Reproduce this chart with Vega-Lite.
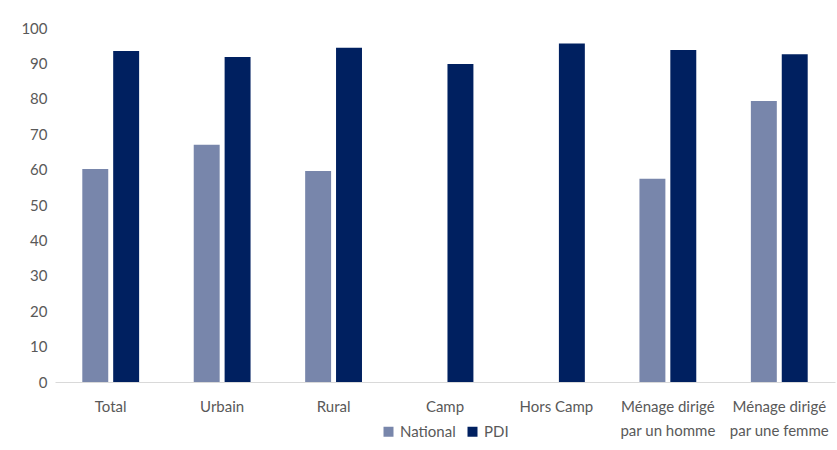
{
  "$schema": "https://vega.github.io/schema/vega-lite/v6.json",
  "width": 780,
  "height": 354,
  "autosize": {"type": "none"},
  "padding": {"left": 55, "top": 28, "right": 2, "bottom": 68},
  "background": "white",
  "config": {
    "view": {"stroke": null},
    "font": "Lato",
    "axis": {"labelFont": "Lato", "labelFontSize": 15, "labelColor": "#595959"},
    "legend": {"labelFont": "Lato", "labelFontSize": 15, "labelColor": "#595959"}
  },
  "data": {
    "values": [
      {"cat": "Total", "serie": "National", "val": 60.2},
      {"cat": "Total", "serie": "PDI", "val": 93.5},
      {"cat": "Urbain", "serie": "National", "val": 67.0},
      {"cat": "Urbain", "serie": "PDI", "val": 91.8},
      {"cat": "Rural", "serie": "National", "val": 59.6},
      {"cat": "Rural", "serie": "PDI", "val": 94.4},
      {"cat": "Camp", "serie": "PDI", "val": 89.8},
      {"cat": "Hors Camp", "serie": "PDI", "val": 95.6},
      {"cat": "Ménage dirigé|par un homme", "serie": "National", "val": 57.4},
      {"cat": "Ménage dirigé|par un homme", "serie": "PDI", "val": 93.8},
      {"cat": "Ménage dirigé|par une femme", "serie": "National", "val": 79.4},
      {"cat": "Ménage dirigé|par une femme", "serie": "PDI", "val": 92.6}
    ]
  },
  "mark": {"type": "bar"},
  "encoding": {
    "x": {
      "field": "cat",
      "type": "nominal",
      "sort": null,
      "scale": {"paddingInner": 0.49, "paddingOuter": 0.245},
      "axis": {
        "title": null,
        "labelAngle": 0,
        "labelExpr": "split(datum.label, '|')",
        "ticks": false,
        "domainColor": "#d9d9d9",
        "domainWidth": 1,
        "labelPadding": 17,
        "labelLineHeight": 24,
        "labelBaseline": "top"
      }
    },
    "xOffset": {
      "field": "serie",
      "type": "nominal",
      "scale": {"paddingInner": 0.16, "paddingOuter": 0}
    },
    "y": {
      "field": "val",
      "type": "quantitative",
      "scale": {"domain": [0, 100], "nice": false},
      "axis": {
        "title": null,
        "values": [0, 10, 20, 30, 40, 50, 60, 70, 80, 90, 100],
        "grid": false,
        "domain": false,
        "ticks": false,
        "labelPadding": 8
      }
    },
    "color": {
      "field": "serie",
      "type": "nominal",
      "scale": {"domain": ["National", "PDI"], "range": ["#7886ab", "#002060"]},
      "legend": {
        "title": null,
        "orient": "none",
        "direction": "horizontal",
        "legendX": 326,
        "legendY": 396,
        "symbolType": "square",
        "symbolSize": 100,
        "symbolStrokeWidth": 0,
        "columnPadding": 9,
        "labelOffset": 4
      }
    }
  }
}
